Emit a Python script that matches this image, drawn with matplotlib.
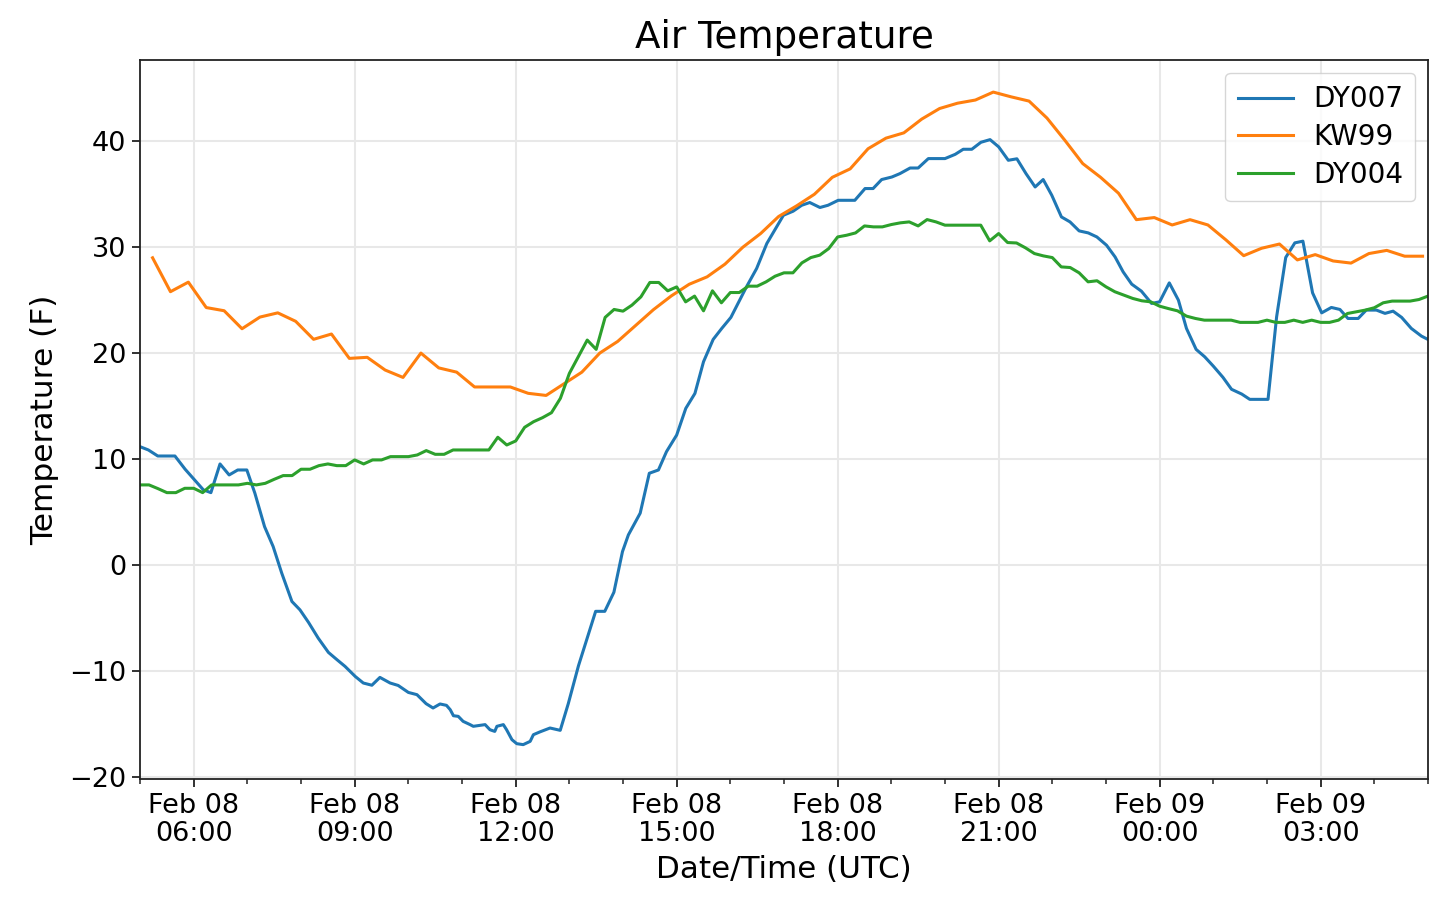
import matplotlib
matplotlib.use("Agg")
import matplotlib.pyplot as plt
import matplotlib.dates as mdates
import numpy as np
import pandas as pd

START = pd.Timestamp("2021-02-08 05:00")
END = pd.Timestamp("2021-02-09 05:00")

# DY007: hours after 05:00 UTC Feb 08, temperature (F)
dy007_hours = [0.00, 0.155, 0.33, 0.65, 0.84, 1.18, 1.32, 1.49, 1.66, 1.82, 1.99, 2.14, 2.32, 2.48,
               2.64, 2.83, 2.98, 3.14, 3.32, 3.51, 3.67, 3.82, 4.01, 4.16, 4.32, 4.47, 4.66, 4.81,
               5.00, 5.16, 5.33, 5.46, 5.59, 5.71, 5.78, 5.84, 5.93, 6.02, 6.15, 6.21, 6.43, 6.52,
               6.61, 6.65, 6.77, 6.83, 6.93, 7.02, 7.14, 7.27, 7.33, 7.45, 7.64, 7.83, 7.98, 8.17,
               8.49, 8.66, 8.83, 8.99, 9.10, 9.32, 9.49, 9.66, 9.81, 10.00, 10.17, 10.34, 10.50,
               10.68, 10.84, 11.01, 11.30, 11.49, 11.68, 11.99, 12.17, 12.33, 12.48, 12.67, 12.82,
               13.01, 13.32, 13.51, 13.66, 13.82, 14.01, 14.16, 14.35, 14.50, 14.69, 15.00, 15.19,
               15.34, 15.50, 15.67, 15.84, 16.00, 16.18, 16.34, 16.51, 16.68, 16.83, 16.99, 17.17,
               17.33, 17.50, 17.67, 17.83, 18.01, 18.17, 18.32, 18.48, 18.66, 18.85, 19.00, 19.18,
               19.35, 19.50, 19.68, 19.84, 20.00, 20.18, 20.34, 20.53, 20.68, 21.02, 21.18, 21.35,
               21.52, 21.67, 21.85, 22.02, 22.20, 22.36, 22.51, 22.70, 22.85, 23.04, 23.20, 23.35,
               23.51, 23.69, 23.88, 24.00]
dy007_temp = [11.16, 10.85, 10.28, 10.28, 9.03, 7.08, 6.82, 9.53, 8.49, 8.96, 8.96, 6.76, 3.61, 1.73,
              -0.78, -3.46, -4.25, -5.44, -6.92, -8.27, -8.96, -9.59, -10.54, -11.16, -11.37, -10.63,
              -11.16, -11.39, -12.05, -12.26, -13.11, -13.52, -13.14, -13.27, -13.68, -14.25, -14.31,
              -14.78, -15.09, -15.25, -15.09, -15.57, -15.73, -15.25, -15.09, -15.57, -16.51, -16.89,
              -16.98, -16.67, -16.04, -15.78, -15.41, -15.63, -13.11, -9.53, -4.39, -4.39, -2.59, 1.25,
              2.83, 4.88, 8.65, 8.96, 10.69, 12.26, 14.78, 16.19, 19.18, 21.29, 22.33, 23.37, 26.25,
              27.99, 30.35, 33.02, 33.40, 33.96, 34.22, 33.75, 33.96, 34.43, 34.43, 35.54, 35.54,
              36.39, 36.63, 36.95, 37.48, 37.48, 38.37, 38.37, 38.77, 39.25, 39.25, 39.91, 40.16,
              39.48, 38.21, 38.35, 36.95, 35.69, 36.39, 34.91, 32.86, 32.39, 31.54, 31.35, 30.97,
              30.19, 29.08, 27.67, 26.51, 25.85, 24.69, 24.84, 26.63, 25.00, 22.33, 20.35, 19.65,
              18.77, 17.71, 16.58, 16.13, 15.63, 15.63, 23.42, 29.03, 30.41, 30.57, 25.69, 23.80,
              24.31, 24.12, 23.27, 23.27, 24.06, 24.06, 23.75, 23.96, 23.37, 22.33, 21.60, 21.29]

# KW99: every 20 minutes starting 05:14
kw99_start = "2021-02-08 05:14"
kw99_temp = [29.0, 25.8, 26.7, 24.3, 24.0, 22.3, 23.4, 23.8, 23.0, 21.3, 21.8, 19.5, 19.6, 18.4,
             17.7, 20.0, 18.6, 18.2, 16.8, 16.8, 16.8, 16.2, 16.0, 17.1, 18.2, 20.0, 21.1, 22.6,
             24.1, 25.4, 26.5, 27.2, 28.4, 30.0, 31.3, 32.9, 33.9, 35.0, 36.6, 37.4, 39.3, 40.3,
             40.8, 42.1, 43.1, 43.6, 43.9, 44.65, 44.2, 43.8, 42.2, 40.1, 37.9, 36.6, 35.1, 32.6,
             32.8, 32.1, 32.6, 32.1, 30.7, 29.2, 29.9, 30.3, 28.8, 29.3, 28.7, 28.5, 29.4, 29.7,
             29.15, 29.15]

# DY004: every 10 minutes starting 05:00
dy004_start = "2021-02-08 05:00"
dy004_temp = [7.55, 7.55, 7.2, 6.82, 6.82, 7.23, 7.23, 6.82, 7.55, 7.55, 7.55, 7.55,
              7.70, 7.55, 7.70, 8.08, 8.43, 8.43, 9.03, 9.03, 9.37, 9.53, 9.37, 9.37,
              9.91, 9.53, 9.91, 9.91, 10.22, 10.22, 10.22, 10.38, 10.79, 10.44, 10.44, 10.85,
              10.85, 10.85, 10.85, 10.85, 12.05, 11.32, 11.70, 12.99, 13.52, 13.90, 14.37, 15.73,
              18.08, 19.65, 21.23, 20.35, 23.37, 24.12, 23.96, 24.53, 25.31, 26.67, 26.67, 25.88,
              26.25, 24.84, 25.38, 23.99, 25.88, 24.75, 25.72, 25.72, 26.32, 26.32, 26.73, 27.26,
              27.58, 27.58, 28.52, 29.02, 29.25, 29.87, 30.97, 31.13, 31.35, 32.01, 31.92, 31.92,
              32.14, 32.30, 32.39, 32.01, 32.61, 32.39, 32.08, 32.08, 32.08, 32.08, 32.08, 30.6,
              31.29, 30.44, 30.4, 29.94, 29.4, 29.18, 29.02, 28.14, 28.08, 27.58, 26.73, 26.83,
              26.26, 25.79, 25.47, 25.16, 24.94, 24.84, 24.43, 24.2, 23.99, 23.49, 23.27, 23.11,
              23.11, 23.11, 23.11, 22.9, 22.9, 22.9, 23.11, 22.9, 22.9, 23.11, 22.9, 23.11,
              22.9, 22.9, 23.11, 23.74, 23.9, 24.06, 24.28, 24.75, 24.91, 24.91, 24.91, 25.06, 25.38]

series_names = ["DY007", "KW99", "DY004"]

dy007_time = START + pd.to_timedelta(dy007_hours, unit="h")
kw99_time = pd.date_range(kw99_start, periods=len(kw99_temp), freq="20min")
dy004_time = pd.date_range(dy004_start, periods=len(dy004_temp), freq="10min")

fig = plt.figure(figsize=(14.38, 9.14), dpi=100)
ax = fig.add_axes([0.0974, 0.148, 0.8956, 0.786])

lw = 2.2
ax.plot(dy007_time, dy007_temp, color="#1f77b4", lw=lw, label=series_names[0])
ax.plot(kw99_time, kw99_temp, color="#ff7f0e", lw=lw, label=series_names[1])
ax.plot(dy004_time, dy004_temp, color="#2ca02c", lw=lw, label=series_names[2])

ax.set_xlim(START, END)
ax.set_ylim(-20.2, 47.65)
ax.set_yticks([-20, -10, 0, 10, 20, 30, 40])

ax.xaxis.set_major_locator(mdates.HourLocator(byhour=[0, 3, 6, 9, 12, 15, 18, 21]))
ax.xaxis.set_minor_locator(mdates.HourLocator())
ax.xaxis.set_major_formatter(mdates.DateFormatter("%b %d\n%H:%M"))

ax.grid(True, which="major", color="#e8e8e8", lw=1.5)
ax.set_axisbelow(True)
for s in ax.spines.values():
    s.set_color("#222222")
    s.set_linewidth(1.3)

ax.tick_params(axis="both", which="major", labelsize=19.5, length=6, width=1.3, color="#222222", pad=4)
ax.tick_params(axis="x", which="minor", length=3.5, width=1.1, color="#222222")
for lab in ax.get_xticklabels():
    lab.set_linespacing(1.1)

ax.set_title("Air Temperature", fontsize=26.8, pad=9)
ax.set_xlabel("Date/Time (UTC)", fontsize=22.3, labelpad=6)
ax.set_ylabel("Temperature (F)", fontsize=22.5, labelpad=7)

leg = ax.legend(loc="upper right", fontsize=20, handlelength=2.0, borderpad=0.45,
                labelspacing=0.35, handletextpad=0.7, framealpha=0.8, fancybox=True,
                borderaxespad=0.45)
leg.get_frame().set_edgecolor("#cccccc")

fig.savefig("out.png", dpi=100)
